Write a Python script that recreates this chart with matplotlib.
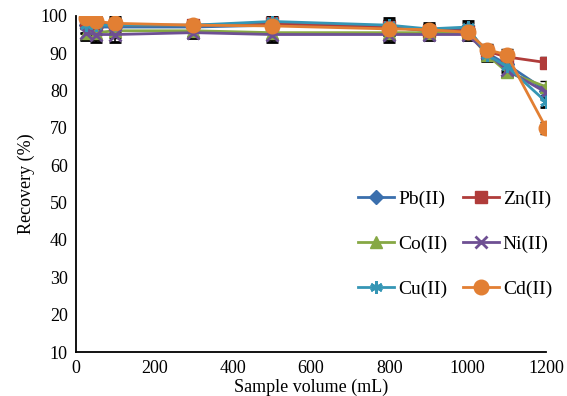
import numpy as np
import matplotlib
matplotlib.use('Agg')
import matplotlib.pyplot as plt
from matplotlib.lines import Line2D

plt.rcParams['font.family'] = 'Liberation Serif'

volume = [25, 50, 100, 300, 500, 800, 900, 1000, 1050, 1100, 1200]
pb = [97.5, 97.0, 97.0, 97.0, 97.5, 97.0, 96.0, 96.5, 90.0, 87.0, 80.0]
zn = [98.5, 98.0, 97.5, 97.5, 98.0, 97.0, 96.0, 96.0, 90.5, 89.0, 87.5]
co = [95.5, 95.5, 96.0, 96.0, 95.5, 95.5, 95.5, 95.5, 89.5, 85.0, 81.0]
ni = [95.5, 95.0, 95.0, 95.5, 95.0, 95.0, 95.0, 95.0, 90.0, 85.5, 79.5]
cu = [97.5, 97.5, 97.5, 97.5, 98.5, 97.5, 96.5, 97.0, 89.5, 86.5, 77.0]
cd = [99.5, 98.5, 98.0, 97.5, 97.3, 96.5, 96.3, 95.6, 90.9, 89.6, 70.0]
err = [2.0, 2.0, 2.0, 1.5, 2.0, 2.0, 1.5, 1.5, 1.5, 1.5, 1.5]

series = [('Pb(II)', pb, '#3a6fad', 'D', 7),
          ('Zn(II)', zn, '#b03c3a', 's', 9),
          ('Co(II)', co, '#86a844', '^', 9),
          ('Ni(II)', ni, '#6e4f93', 'x', 8),
          ('Cu(II)', cu, '#3596b5', (6, 2, 0), 9),
          ('Cd(II)', cd, '#e27f33', 'o', 10.5)]

fig = plt.figure(figsize=(5.67, 3.96), dpi=100)
ax = fig.add_axes([0.134, 0.111, 0.829, 0.849])

handles = {}
for name, vals, col, mk, ms in series:
    mew = 2 if mk in ('x', (6, 2, 0)) else 1
    ax.errorbar(volume, vals, yerr=err, color=col, ecolor='black', elinewidth=1.2,
                capsize=4, capthick=2.5, marker=mk, markersize=ms, linewidth=2,
                markeredgewidth=mew, zorder=3)
    handles[name] = Line2D([], [], color=col, marker=mk, markersize=ms,
                           linewidth=2, markeredgewidth=mew)

ax.set_xlim(0, 1200)
ax.set_ylim(10, 100)
ax.set_xticks(np.arange(0, 1201, 200))
ax.set_yticks(np.arange(10, 101, 10))
ax.tick_params(length=0, labelsize=13, pad=6)
ax.spines['top'].set_visible(False)
ax.spines['right'].set_visible(False)
ax.spines['left'].set_linewidth(1.3)
ax.spines['bottom'].set_linewidth(1.3)
ax.set_xlabel('Sample volume (mL)', fontsize=13, labelpad=1)
ax.set_ylabel('Recovery (%)', fontsize=13)

# column-first fill, so order gives rows Pb/Zn, Co/Ni, Cu/Cd
order = ['Pb(II)', 'Co(II)', 'Cu(II)', 'Zn(II)', 'Ni(II)', 'Cd(II)']
ax.legend([handles[k] for k in order], order, ncol=2, frameon=False,
          fontsize=14, loc='upper right', bbox_to_anchor=(1.05, 0.533),
          labelspacing=1.4, columnspacing=0.8, handlelength=1.85,
          handletextpad=0.2)

plt.savefig('out.png', dpi=100)
plt.close()
